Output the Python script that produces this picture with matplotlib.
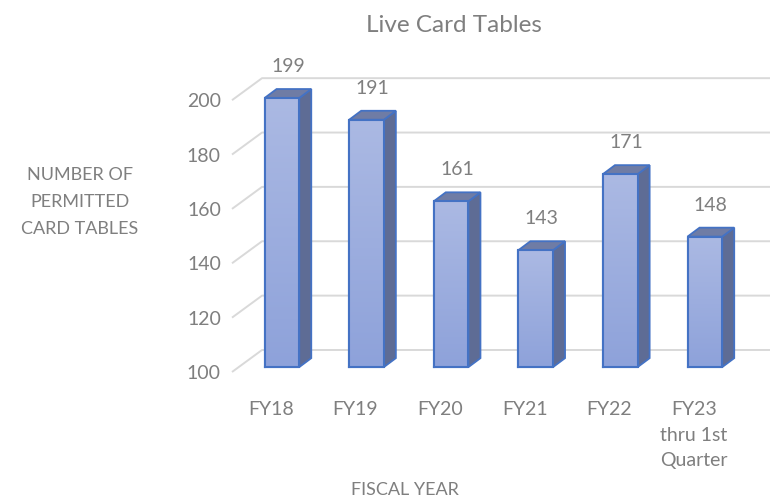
import numpy as np
import matplotlib
matplotlib.use("Agg")
import matplotlib.pyplot as plt
from matplotlib.patches import Polygon

plt.rcParams['font.family'] = ['Lato', 'DejaVu Sans']

categories = ["FY18", "FY19", "FY20", "FY21", "FY22", "FY23\nthru 1st\nQuarter"]
tables = [199, 191, 161, 143, 171, 148]
yticks = [100, 120, 140, 160, 180, 200]

txt = "#7f7f7f"
grid_c = "#d9d9d9"
edge = "#4472c4"

fig = plt.figure(figsize=(7.76, 5.01), dpi=100)
ax = fig.add_axes([232 / 776, (501 - 372) / 501, (770 - 232) / 776, 299 / 501])
x0, x1 = -0.59, 5.77
ax.set_xlim(x0, x1)
ax.set_ylim(100, 210)
for s in ax.spines.values():
    s.set_visible(False)

# pseudo 3d offsets (data units)
back_dx, back_dy = 0.355, 8.1
bar_dx, bar_dy = 0.142, 3.3
bar_off_y = 1.8
label_shift = -0.13
w = 0.41

# gridlines on the back wall, with a diagonal on the side wall
for v in yticks:
    ax.plot([x0, x0 + back_dx, x1], [v, v + back_dy, v + back_dy],
            color=grid_c, lw=1.4, zorder=1, clip_on=False, solid_capstyle='butt')

x = np.arange(len(tables))
base = 100 + bar_off_y
grad = np.linspace(0, 1, 100).reshape(-1, 1)
cmap = matplotlib.colors.LinearSegmentedColormap.from_list("g", ["#8ea2da", "#abb9e3"])
for i, v in enumerate(tables):
    xl = i - w / 2
    xr = i + w / 2
    top = v + bar_off_y
    bars = ax.bar(i, top - base, bottom=base, width=w,
                  color="#9eb0e0", edgecolor=edge, lw=1.5, zorder=3)
    im = ax.imshow(grad, extent=[xl, xr, base, top], origin="lower", cmap=cmap,
                   aspect="auto", zorder=3.5)
    im.set_clip_path(bars[0])
    side = Polygon([[xr, base], [xr, top], [xr + bar_dx, top + bar_dy], [xr + bar_dx, base + bar_dy]],
                   closed=True, facecolor="#5e6c95", edgecolor=edge, lw=1.3, zorder=3)
    topf = Polygon([[xl, top], [xr, top], [xr + bar_dx, top + bar_dy], [xl + bar_dx, top + bar_dy]],
                   closed=True, facecolor="#6f7ca5", edgecolor=edge, lw=1.3, zorder=3)
    ax.add_patch(side)
    ax.add_patch(topf)
    ax.plot([xl, xr, xr, xl, xl], [base, base, top, top, base], color=edge, lw=1.5, zorder=5)
    ax.annotate(str(v), (i + bar_dx / 2, top + bar_dy), xytext=(0, 10),
                textcoords="offset points", ha="center", va="bottom", fontsize=14, color=txt)

ax.set_yticks(yticks)
ax.set_yticklabels([str(t) for t in yticks])
ax.set_xticks(x + label_shift)
ax.set_xticklabels(categories, linespacing=1.6)
ax.tick_params(axis='y', length=0, pad=8, labelsize=14, labelcolor=txt)
ax.tick_params(axis='x', length=0, pad=21, labelsize=14, labelcolor=txt)
for lab in ax.get_xticklabels():
    lab.set_verticalalignment('top')

fig.text(405 / 776, 1 - 490 / 501, "FISCAL YEAR", ha="center", va="center", fontsize=13, color=txt)
fig.text(80 / 776, 1 - 202 / 501, "NUMBER OF\nPERMITTED\nCARD TABLES", ha="center", va="center",
         fontsize=13, color=txt, linespacing=1.85)
fig.text(454 / 776, 1 - 26 / 501, "Live Card Tables", ha="center", va="center", fontsize=17.5, color=txt)

fig.savefig("out.png", dpi=100)
